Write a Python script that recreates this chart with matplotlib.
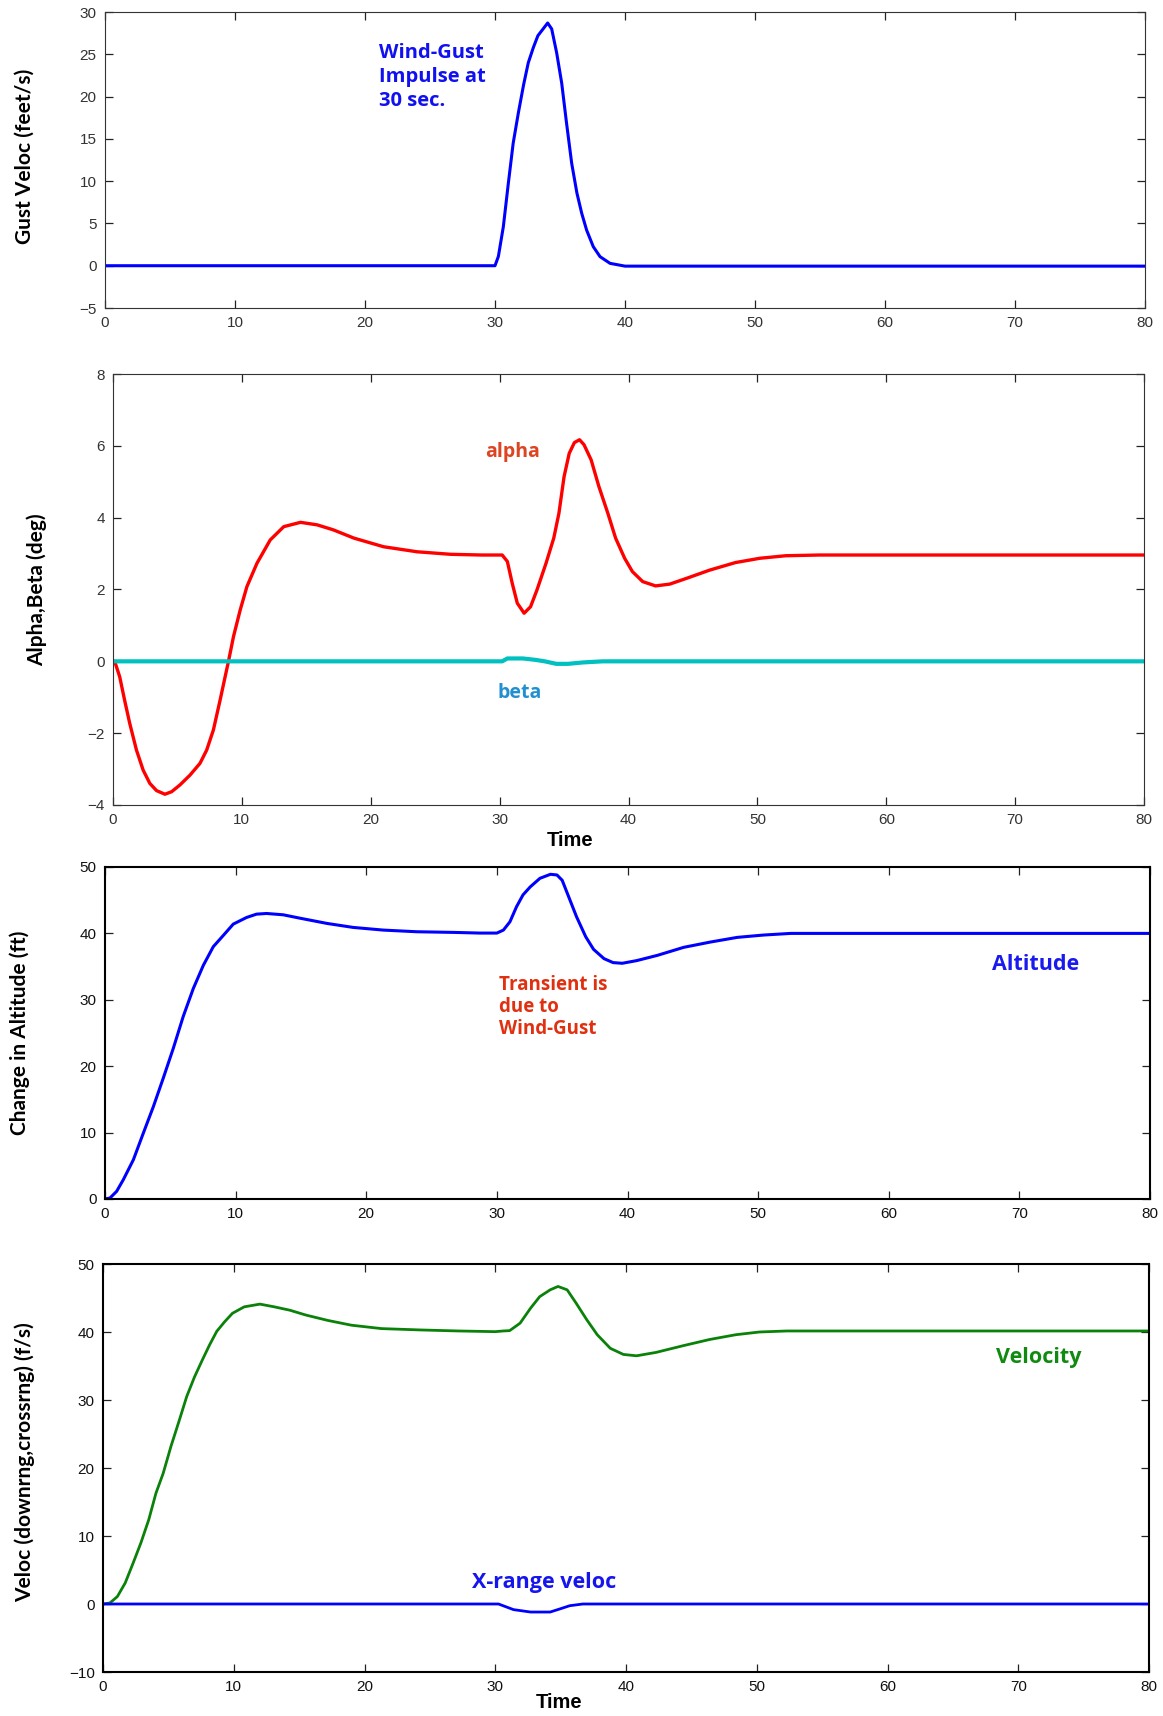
import matplotlib
matplotlib.use('Agg')
import matplotlib.pyplot as plt

W, H = 1163, 1716

# ---- data ----
gust_t = [0, 30, 30.26, 30.64, 31.03, 31.4, 31.8, 32.2, 32.56, 32.95, 33.3, 33.7,
          34.05, 34.36, 34.74, 35.13, 35.5, 35.9, 36.3, 36.67, 37.05, 37.56, 38.08,
          38.85, 40, 80]
gust_v = [0, 0, 1.1, 4.6, 9.8, 14.5, 18.1, 21.4, 24.0, 25.8, 27.2, 28.0,
          28.7, 28.0, 25.2, 21.6, 16.9, 12.1, 8.6, 6.2, 4.2, 2.25, 1.07,
          0.28, -0.05, -0.05]

alpha_t = [0, 0.13, 0.52, 0.9, 1.3, 1.82, 2.34, 2.86, 3.38, 4.03, 4.55, 5.2, 5.97,
           6.75, 7.27, 7.79, 8.31, 8.7, 8.96, 9.35, 9.87, 10.39, 11.17, 12.2, 13.25,
           14.55, 15.84, 17.1, 18.7, 21.0, 23.6, 26.2, 28.6, 30.2, 30.6, 30.98, 31.37,
           31.9, 32.4, 32.9, 33.6, 34.2, 34.6, 35.0, 35.4, 35.8, 36.2, 36.55, 37.1,
           37.7, 38.4, 39.0, 39.7, 40.3, 41.1, 42.1, 43.2, 44.5, 46.3, 48.3, 50.2,
           52.2, 54.8, 80]
alpha_v = [0, 0, -0.43, -1.08, -1.73, -2.47, -3.03, -3.40, -3.60, -3.70, -3.63, -3.44,
           -3.17, -2.84, -2.47, -1.91, -1.08, -0.43, 0, 0.69, 1.43, 2.08, 2.73, 3.38,
           3.75, 3.87, 3.80, 3.66, 3.43, 3.19, 3.05, 2.98, 2.96, 2.96, 2.78, 2.17, 1.62,
           1.34, 1.52, 1.99, 2.73, 3.43, 4.12, 5.14, 5.79, 6.09, 6.17, 6.03, 5.61,
           4.87, 4.12, 3.43, 2.87, 2.50, 2.22, 2.10, 2.15, 2.31, 2.54, 2.75, 2.87,
           2.94, 2.96, 2.96]

beta_t = [0, 30.2, 30.6, 31.8, 32.8, 33.5, 34.4, 35.3, 36.5, 38, 80]
beta_v = [0, 0, 0.08, 0.08, 0.04, 0, -0.07, -0.07, -0.03, 0, 0]

alt_t = [0, 0.38, 0.89, 1.4, 2.17, 2.93, 3.7, 4.46, 5.23, 5.99, 6.76, 7.53, 8.29,
         9.06, 9.82, 10.84, 11.6, 12.37, 13.65, 14.9, 17.0, 19.0, 21.3, 23.85, 26.7,
         28.7, 30.0, 30.5, 31.0, 31.5, 32.0, 32.55, 33.3, 34.1, 34.6, 35.0, 35.5, 36.1,
         36.8, 37.4, 38.2, 38.9, 39.6, 40.7, 42.3, 44.3, 46.35, 48.4, 50.4, 52.5, 80]
alt_v = [0, 0.15, 1.15, 2.9, 5.9, 9.9, 13.9, 18.2, 22.7, 27.5, 31.7, 35.2, 38.0,
         39.7, 41.4, 42.4, 42.9, 43.0, 42.8, 42.3, 41.5, 40.9, 40.5, 40.25, 40.15,
         40.05, 40.05, 40.5, 41.75, 44.0, 45.8, 47.0, 48.3, 48.9, 48.8, 48.0, 45.5, 42.5,
         39.5, 37.6, 36.2, 35.6, 35.5, 35.9, 36.7, 37.9, 38.7, 39.4, 39.75, 40.0, 40.0]

vel_t = [0, 0.53, 1.1, 1.7, 2.3, 2.9, 3.5, 4.05, 4.6, 5.2, 5.8, 6.4, 7.0, 7.6, 8.15,
         8.7, 9.3, 9.9, 10.8, 12.0, 13.1, 14.3, 15.5, 17.2, 19.0, 21.3, 24.3, 27.2,
         30.0, 30.6, 31.1, 31.9, 32.7, 33.4, 34.2, 34.8, 35.5, 36.2, 37.0, 37.8, 38.8,
         39.8, 40.8, 42.3, 44.4, 46.4, 48.4, 50.2, 52.3, 80]
vel_v = [0, 0.15, 1.1, 3.1, 6.0, 9.0, 12.4, 16.3, 19.2, 23.2, 26.8, 30.5, 33.4, 35.9,
         38.1, 40.1, 41.5, 42.75, 43.7, 44.1, 43.7, 43.2, 42.5, 41.7, 41.0, 40.5, 40.3,
         40.15, 40.05, 40.15, 40.2, 41.3, 43.5, 45.2, 46.2, 46.7, 46.2, 44.2, 41.8,
         39.6, 37.6, 36.7, 36.5, 37.0, 38.0, 38.9, 39.6, 40.0, 40.15, 40.15]

xr_t = [0, 30.25, 31.4, 32.7, 34.2, 35.0, 35.7, 36.7, 80]
xr_v = [0, 0, -0.83, -1.18, -1.18, -0.69, -0.25, 0, 0]

plt.rcParams['font.family'] = ['Liberation Sans', 'DejaVu Sans']

fig = plt.figure(figsize=(W / 100, H / 100), dpi=100)


def add_ax(l, r, t, b):
    return fig.add_axes([l / W, 1 - b / H, (r - l) / W, (b - t) / H])


def style(ax, thick):
    for s in ax.spines.values():
        s.set_linewidth(1.5 if thick else 0.8)
        s.set_color('black' if thick else '#333333')
    ax.tick_params(direction='in', length=6, width=0.9, top=True, right=True,
                   labelsize=11, pad=6, color='#222222',
                   labelcolor='#111111' if thick else '#333333')
    ax.set_xlim(0, 80)
    ax.set_xticks(range(0, 81, 10))


def ylab(text, x, y):
    fig.text(x / W, 1 - y / H, text, rotation=90, ha='center', va='center',
             fontsize=15, fontweight='bold', family='Lato')


ANN = dict(family='Open Sans', fontweight='bold')

# panel 1: gust
ax1 = add_ax(105, 1145, 12, 308)
ax1.plot(gust_t, gust_v, color='#0000ff', lw=2.2)
ax1.set_ylim(-5, 30)
ax1.set_yticks(range(-5, 31, 5))
style(ax1, False)
ax1.text(21.1, 26.3, 'Wind-Gust\nImpulse at\n30 sec.', color='#1010f0', fontsize=14.5,
         ha='left', va='top', linespacing=1.25, **ANN)
ylab('Gust Veloc (feet/s)', 25, 156)

# panel 2: alpha, beta
ax2 = add_ax(113, 1144, 374, 805)
ax2.plot(alpha_t, alpha_v, color='#ff0000', lw=2.4)
ax2.plot(beta_t, beta_v, color='#00c0c0', lw=3.0)
ax2.set_ylim(-4, 8)
ax2.set_yticks(range(-4, 9, 2))
style(ax2, False)
ax2.text(28.85, 5.69, 'alpha', color='#dd4422', fontsize=14, ha='left', va='baseline', **ANN)
ax2.text(29.8, -1.02, 'beta', color='#2290d0', fontsize=14, ha='left', va='baseline', **ANN)
ylab('Alpha,Beta (deg)', 37, 590)
fig.text(570 / W, 1 - 840 / H, 'Time', ha='center', va='center', fontsize=14.5,
         fontweight='bold')

# panel 3: altitude
ax3 = add_ax(105, 1150, 867, 1199)
ax3.plot(alt_t, alt_v, color='#0000ff', lw=2.2)
ax3.set_ylim(0, 50)
ax3.set_yticks(range(0, 51, 10))
style(ax3, True)
ax3.text(30.2, 33.8, 'Transient is\ndue to\nWind-Gust', color='#e03010', fontsize=13.5,
         ha='left', va='top', linespacing=1.15, **ANN)
ax3.text(67.9, 34.5, 'Altitude', color='#1a1aee', fontsize=15.5, ha='left',
         va='baseline', **ANN)
ylab('Change in Altitude (ft)', 20, 1033)

# panel 4: velocities
ax4 = add_ax(103, 1149, 1264, 1672)
ax4.plot(vel_t, vel_v, color='#0a820a', lw=2.0)
ax4.plot(xr_t, xr_v, color='#0000ff', lw=2.0)
ax4.set_ylim(-10, 50)
ax4.set_yticks(range(-10, 51, 10))
style(ax4, True)
ax4.text(68.3, 35.4, 'Velocity', color='#118a11', fontsize=15.5, ha='left',
         va='baseline', **ANN)
ax4.text(28.2, 2.35, 'X-range veloc', color='#1515ee', fontsize=15.5, ha='left',
         va='baseline', **ANN)
ylab('Veloc (downrng,crossrng) (f/s)', 25, 1462)
fig.text(559 / W, 1 - 1703 / H, 'Time', ha='center', va='center', fontsize=14.5,
         fontweight='bold')

fig.savefig('out.png', dpi=100)
